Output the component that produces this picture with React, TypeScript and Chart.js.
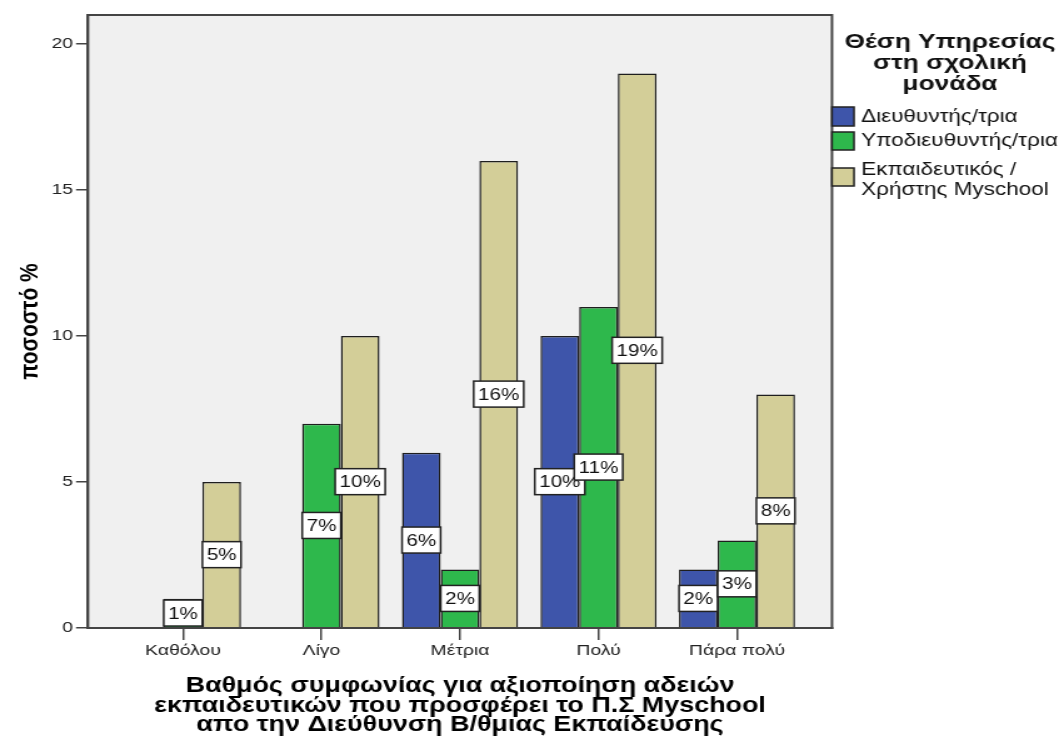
import React, { useEffect, useRef } from 'react';
import { Chart, registerables } from 'chart.js';

Chart.register(...registerables);

// ---------- data ----------
const categories = ['Καθόλου', 'Λίγο', 'Μέτρια', 'Πολύ', 'Πάρα πολύ'];
const seriesLabels = ['Διευθυντής/τρια', 'Υποδιευθυντής/τρια', 'Εκπαιδευτικός /\nΧρήστης Myschool'];
const directorValues = [0, 0, 6, 10, 2];
const deputyValues = [1, 7, 2, 11, 3];
const teacherValues = [5, 10, 16, 19, 8];
const seriesColors = ['#3e55aa', '#2eb84c', '#d3ce98'];
const yTickValues = [0, 5, 10, 15, 20];
const yTitle = 'ποσοστό %';
const xTitleLines = [
  'Βαθμός συμφωνίας για αξιοποίηση αδειών',
  'εκπαιδευτικών που προσφέρει το Π.Σ Myschool',
  'απο την Διεύθυνση Β/θμιας Εκπαίδευσης',
];
const legendTitleLines = ['Θέση Υπηρεσίας', 'στη σχολική', 'μονάδα'];

// ---------- layout (horizontal stretch to mimic the reference) ----------
const OUT_W = 1064;
const OUT_H = 740;
const W = 851;
const K = OUT_W / W;
const FONT = "'Liberation Sans', Arial, sans-serif";

const allSeries = [directorValues, deputyValues, teacherValues];

const plotFramePlugin = {
  id: 'plotFrame',
  beforeDatasetsDraw(chart: any) {
    const { ctx, chartArea: a } = chart;
    ctx.save();
    ctx.fillStyle = '#f0f0f0';
    ctx.fillRect(a.left, a.top, a.right - a.left, a.bottom - a.top);
    ctx.restore();
  },
  afterDatasetsDraw(chart: any) {
    const { ctx, chartArea: a } = chart;
    ctx.save();
    ctx.strokeStyle = '#444';
    ctx.lineWidth = 2;
    ctx.strokeRect(a.left, a.top, a.right - a.left, a.bottom - a.top);
    ctx.restore();
  },
};

const valueLabelPlugin = {
  id: 'valueLabels',
  afterDraw(chart: any) {
    const { ctx } = chart;
    ctx.save();
    ctx.font = `16.5px ${FONT}`;
    ctx.textAlign = 'center';
    ctx.textBaseline = 'middle';
    chart.data.datasets.forEach((ds: any, di: number) => {
      const meta = chart.getDatasetMeta(di);
      meta.data.forEach((bar: any, i: number) => {
        const v = allSeries[di][i];
        if (!v) return;
        const text = `${v}%`;
        const cy = (bar.y + bar.base) / 2;
        const tw = ctx.measureText(text).width;
        const bw = tw + 7;
        const bh = 26;
        ctx.fillStyle = '#ffffff';
        ctx.fillRect(bar.x - bw / 2, cy - bh / 2, bw, bh);
        ctx.strokeStyle = '#222';
        ctx.lineWidth = 1.5;
        ctx.strokeRect(bar.x - bw / 2, cy - bh / 2, bw, bh);
        ctx.fillStyle = '#111';
        ctx.fillText(text, bar.x, cy + 1);
      });
    });
    ctx.restore();
  },
};

const legendPlugin = {
  id: 'customLegend',
  afterDraw(chart: any) {
    const { ctx } = chart;
    ctx.save();
    ctx.fillStyle = '#111';
    ctx.textAlign = 'center';
    ctx.textBaseline = 'middle';
    ctx.font = `bold 21px ${FONT}`;
    legendTitleLines.forEach((line, i) => {
      ctx.fillText(line, 950 / K, 42 + i * 21);
    });
    const swatchX = 832 / K;
    const swatchW = 22 / K;
    const boxes = [
      { top: 107, h: 19, textY: [117] },
      { top: 132, h: 18, textY: [141] },
      { top: 168, h: 18, textY: [170, 190] },
    ];
    ctx.textAlign = 'left';
    ctx.font = `18px ${FONT}`;
    seriesLabels.forEach((label, i) => {
      const b = boxes[i];
      ctx.fillStyle = seriesColors[i];
      ctx.fillRect(swatchX, b.top, swatchW, b.h);
      ctx.strokeStyle = '#222';
      ctx.lineWidth = 1.5;
      ctx.strokeRect(swatchX, b.top, swatchW, b.h);
      ctx.fillStyle = '#111';
      label.split('\n').forEach((ln, j) => {
        ctx.fillText(ln, 861 / K, b.textY[j]);
      });
    });
    ctx.restore();
  },
};

export default function App() {
  const canvasRef = useRef<HTMLCanvasElement | null>(null);

  useEffect(() => {
    const canvas = canvasRef.current;
    if (!canvas) return;
    const datasets = allSeries.map((vals, si) => ({
      label: seriesLabels[si],
      data: vals.map((v, i) => ({ x: i, y: v === 0 ? null : v })),
      backgroundColor: seriesColors[si],
      borderColor: '#1e1e1e',
      borderWidth: 1.5,
      borderSkipped: 'start',
      categoryPercentage: 0.838,
      barPercentage: 1,
    }));

    const chart = new Chart(canvas, {
      type: 'bar',
      data: { datasets } as any,
      options: {
        animation: false,
        responsive: false,
        devicePixelRatio: 1,
        layout: { padding: { left: 0, top: 15, right: W - 832 / K, bottom: 5 } },
        plugins: {
          legend: { display: false },
          tooltip: { enabled: false },
        },
        scales: {
          x: {
            type: 'linear',
            offset: false,
            min: -0.686,
            max: 4.686,
            afterBuildTicks: (s: any) => {
              s.ticks = categories.map((_, i) => ({ value: i }));
            },
            afterFit: (s: any) => {
              s.height = OUT_H - 5 - 628;
            },
            ticks: {
              callback: (v: any) => categories[v as number] ?? '',
              autoSkip: false,
              maxRotation: 0,
              padding: 1,
              color: '#222',
              font: { family: FONT, size: 15.5 },
            },
            grid: { offset: false, drawOnChartArea: false, drawTicks: true, tickLength: 12, color: '#444', lineWidth: 1.5 },
            border: { display: true, color: '#444', width: 2 },
            title: {
              display: true,
              text: xTitleLines,
              color: '#000',
              font: { family: FONT, size: 21.5, weight: 'bold', lineHeight: 0.907 },
              padding: { top: 0, bottom: 0 },
            },
          },
          y: {
            min: 0,
            max: 21,
            afterBuildTicks: (s: any) => {
              s.ticks = yTickValues.map((v) => ({ value: v }));
            },
            afterFit: (s: any) => {
              s.width = 88 / K;
            },
            ticks: {
              padding: 2.4,
              color: '#222',
              font: { family: FONT, size: 15.5 },
            },
            grid: { drawOnChartArea: false, drawTicks: true, tickLength: 12 / K, color: '#444', lineWidth: 1.5 },
            border: { display: true, color: '#444', width: 2 },
            title: {
              display: true,
              text: yTitle,
              color: '#000',
              font: { family: FONT, size: 21, weight: 'bold', lineHeight: 1.2 },
              padding: { top: 11.4, bottom: 0 },
            },
          },
        },
      } as any,
      plugins: [plotFramePlugin, valueLabelPlugin, legendPlugin],
    });
    return () => chart.destroy();
  }, []);

  return (
    <div style={{ position: 'fixed', left: 0, top: 0, width: OUT_W, height: OUT_H, background: '#fff' }}>
      <canvas
        ref={canvasRef}
        width={W}
        height={OUT_H}
        style={{ width: `${OUT_W}px`, height: `${OUT_H}px`, display: 'block' }}
      />
    </div>
  );
}
